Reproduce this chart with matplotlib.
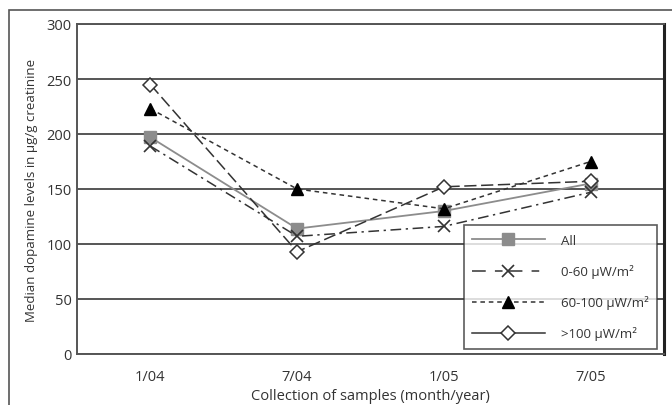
import matplotlib
matplotlib.use("Agg")
import matplotlib.pyplot as plt
from matplotlib.patches import Rectangle
from matplotlib.lines import Line2D

plt.rcParams['font.family'] = ['Open Sans', 'DejaVu Sans']

months = ["1/04", "7/04", "1/05", "7/05"]
all_vals = [197, 114, 130, 155]
low_vals = [189, 107, 116, 147]
mid_vals = [223, 150, 132, 175]
high_vals = [245, 93, 152, 157]

labels = ["All", "0-60 μW/m²", "60-100 μW/m²", ">100 μW/m²"]

fig = plt.figure(figsize=(6.72, 4.06), dpi=100)
ax = fig.add_axes([77 / 672, 1 - 355 / 406, (664 - 77) / 672, (355 - 25) / 406])

x = range(len(months))
text_col = "#333333"
dark = "#333333"

ax.plot(x, all_vals, color="#8c8c8c", lw=1.3, marker="s", ms=8,
        mfc="#8c8c8c", mec="#8c8c8c", zorder=3)
ax.plot(x, low_vals, color=dark, lw=1.1, dashes=(7, 3, 1.5, 3),
        marker="x", ms=9, mew=1.2, mec=dark, zorder=3)
ax.plot(x, mid_vals, color=dark, lw=1.1, dashes=(3, 2.5),
        marker="^", ms=9, mfc="black", mec="black", zorder=4)
ax.plot(x, high_vals, color=dark, lw=1.1, dashes=(8, 3),
        marker="D", ms=7, mfc="white", mec=dark, mew=1.1, zorder=5)

ax.set_xlim(-0.5, 3.5)
ax.set_ylim(0, 300)
ax.set_yticks(range(0, 301, 50))
ax.set_xticks(list(x))
ax.set_xticklabels(months)
ax.yaxis.grid(True, color="#555555", lw=1.4)
ax.set_axisbelow(True)
ax.tick_params(axis="both", length=0, labelsize=10.5, colors=text_col, pad=4)
ax.tick_params(axis="x", pad=11)

for side in ["left", "bottom", "top"]:
    ax.spines[side].set_color("#555555")
    ax.spines[side].set_linewidth(1.4)
ax.spines["right"].set_color("#222222")
ax.spines["right"].set_linewidth(2.2)

ax.set_ylabel("Median dopamine levels in μg/g creatinine", fontsize=9.5,
              color=text_col, labelpad=6)
ax.set_xlabel("Collection of samples (month/year)", fontsize=10.5,
              color=text_col, labelpad=3)

# legend keys drawn with their own line styles
handles = [
    Line2D([], [], color="#8c8c8c", lw=1.3, marker="s", ms=8,
           mfc="#8c8c8c", mec="#8c8c8c"),
    Line2D([], [], color=dark, lw=1.1, dashes=(9, 6, 5, 4),
           marker="x", ms=9, mew=1.2, mec=dark),
    Line2D([], [], color=dark, lw=1.1, dashes=(3, 2.5),
           marker="^", ms=9, mfc="black", mec="black"),
    Line2D([], [], color=dark, lw=1.1,
           marker="D", ms=7, mfc="white", mec=dark, mew=1.1),
]
leg = ax.legend(handles, labels, loc="lower right", bbox_to_anchor=(0.988, 0.015),
                borderaxespad=0, fontsize=9.5,
                frameon=True, fancybox=False, edgecolor="#333333",
                handlelength=5.5, labelspacing=1.3, borderpad=0.65,
                handletextpad=1.2, labelcolor=text_col)
leg.get_frame().set_linewidth(1.2)

fig.patches.append(Rectangle((9 / 672, -0.1), 1.2, 1 - 11 / 406 + 0.1,
                             transform=fig.transFigure, fill=False,
                             edgecolor="#555555", lw=1.2))

fig.savefig("out.png", dpi=100)
